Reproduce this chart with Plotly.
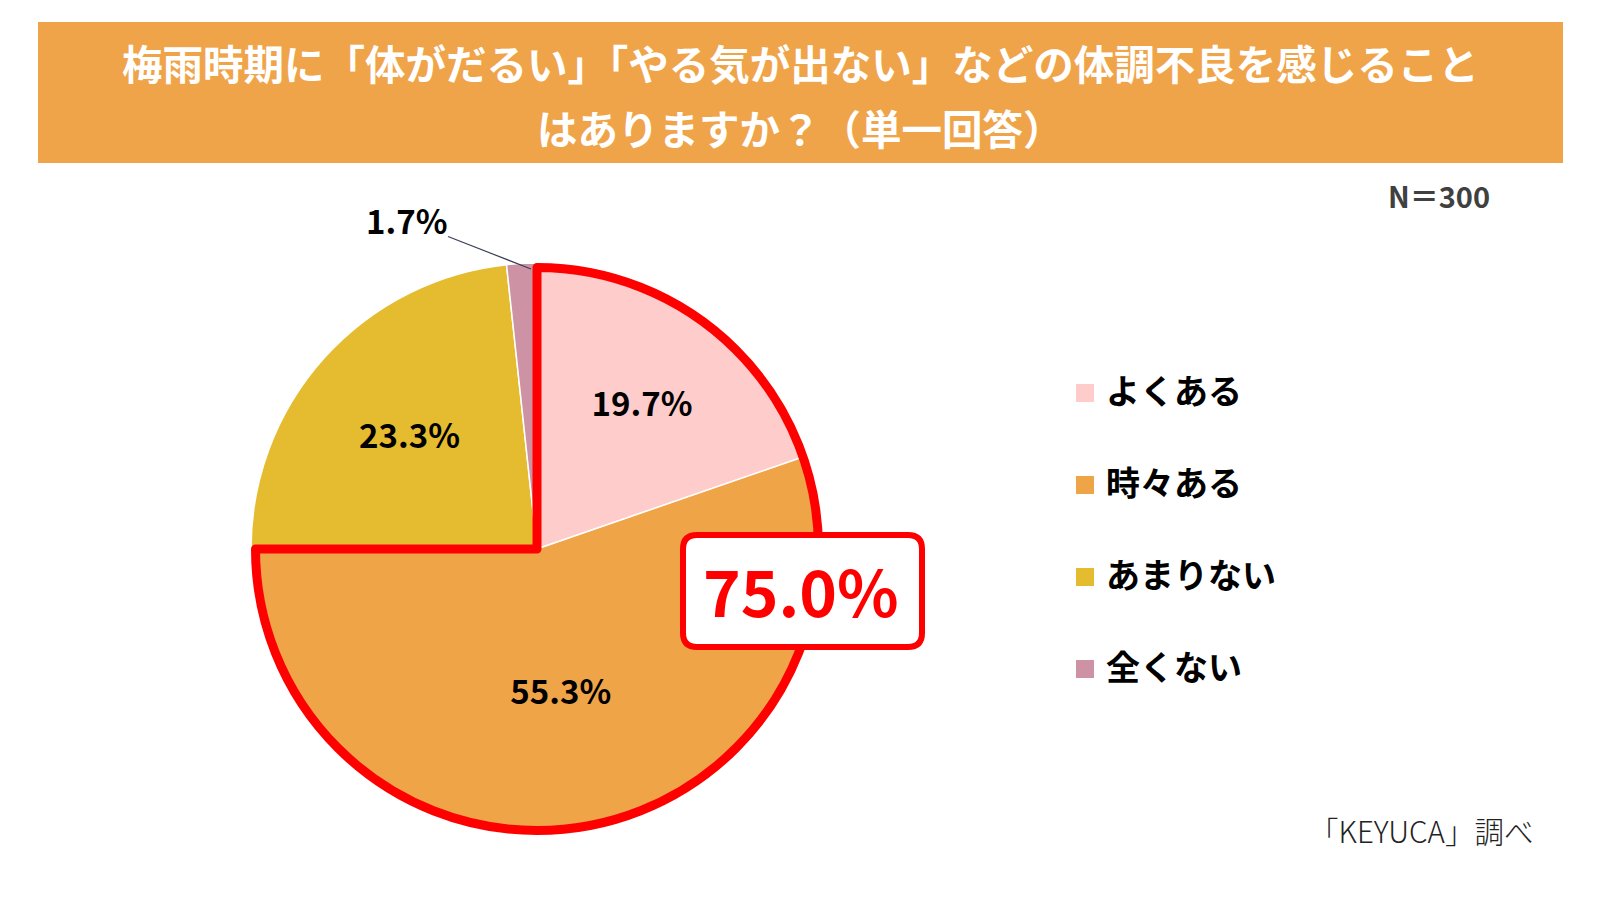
"""Pie chart: rainy-season condition survey (KEYUCA), N=300."""

import plotly.graph_objects as go

W, H = 1600, 900
OFF = 8  # page body margin in the exported html

# data
labels = ["よくある", "時々ある", "あまりない", "全くない"]
values = [19.7, 55.3, 23.3, 1.7]
colors = ["#FFCCCC", "#F0A448", "#E5BC2F", "#CD93A5"]
title_lines = [
    "梅雨時期に「体がだるい」「やる気が出ない」などの体調不良を感じること",
    "はありますか？（単一回答）",
]
n_note = "N＝300"
source_note = "「KEYUCA」調べ"

JP = "Noto Sans CJK JP"


def px(x):
    return (x - OFF) / W


def py(y):
    return 1 - (y - OFF) / H


def rounded_box(x0, y0, x1, y1, r):
    # path in paper coords from pixel box (y measured from top)
    rx, ry = r / W, r / H
    a, b, c, d = px(x0), py(y0), px(x1), py(y1)
    return (
        f"M {a + rx},{b} L {c - rx},{b} Q {c},{b} {c},{b - ry} "
        f"L {c},{d + ry} Q {c},{d} {c - rx},{d} "
        f"L {a + rx},{d} Q {a},{d} {a},{d + ry} "
        f"L {a},{b - ry} Q {a},{b} {a + rx},{b} Z"
    )


def note(text, x, y, size, color, weight, xanchor="center"):
    return dict(text=text, x=px(x), y=py(y), xref="paper", yref="paper",
                xanchor=xanchor, yanchor="middle", showarrow=False,
                font=dict(family=JP, size=size, color=color, weight=weight))


# pie geometry (pixels)
cx, cy, R = 537, 549, 286
inset = 4.5

fig = go.Figure()

slice_text = [f"{v}%" for v in values[:3]] + [""]
fig.add_trace(go.Pie(
    labels=labels,
    values=values,
    sort=False,
    direction="clockwise",
    rotation=0,
    marker=dict(colors=colors, line=dict(color="white", width=1.5)),
    text=slice_text,
    textinfo="text",
    textposition="inside",
    insidetextorientation="horizontal",
    textfont=dict(family=JP, size=33, color="black", weight="bold"),
    domain=dict(x=[px(cx - R), px(cx + R)], y=[py(cy + R), py(cy - R)]),
    hoverinfo="skip",
    showlegend=False,
))

# red outline around the "often" + "sometimes" share
share = round(values[0] + values[1], 1)
fig.add_trace(go.Pie(
    labels=["outline", "rest"],
    values=[share, 100 - share],
    sort=False,
    direction="clockwise",
    rotation=0,
    marker=dict(
        colors=["rgba(0,0,0,0)", "rgba(0,0,0,0)"],
        line=dict(color=["#FF0000", "rgba(0,0,0,0)"], width=[9, 0]),
    ),
    textinfo="none",
    domain=dict(
        x=[px(cx - R + inset), px(cx + R - inset)],
        y=[py(cy + R - inset), py(cy - R + inset)],
    ),
    hoverinfo="skip",
    showlegend=False,
))

shapes = [
    # title band
    dict(type="rect", xref="paper", yref="paper",
         x0=px(38), x1=px(1563), y0=py(163), y1=py(22),
         fillcolor="#F0A44A", line=dict(width=0), layer="below"),
    # 75% callout box
    dict(type="path", xref="paper", yref="paper",
         path=rounded_box(683, 535, 922, 647, 14),
         fillcolor="white", line=dict(color="#FF0000", width=6)),
]

annotations = [
    note(title_lines[0], 800, 62, 40.5, "white", "bold"),
    note(title_lines[1], 800, 128, 40.5, "white", "bold"),
    note(n_note, 1492, 195, 29, "#404040", "bold", xanchor="right"),
    note(source_note, 1535, 830, 29.5, "#222222", 300, xanchor="right"),
    note(f"{share:.1f}%", 801, 589, 64, "#FF0000", "bold"),
    # small slice label with leader line
    dict(text=f"{values[3]}%", x=px(531), y=py(269), xref="paper", yref="paper",
         ax=406 - 531, ay=220 - 269, showarrow=True, arrowhead=0,
         arrowwidth=1.2, arrowcolor="#3A3F55",
         font=dict(family=JP, size=33, color="black", weight="bold")),
]

# legend drawn by hand so the row spacing matches
for i, (lab, col) in enumerate(zip(labels, colors)):
    yc = 393 + i * 92
    shapes.append(dict(type="rect", xref="paper", yref="paper",
                       x0=px(1076), x1=px(1094), y0=py(yc + 9), y1=py(yc - 9),
                       fillcolor=col, line=dict(width=0)))
    annotations.append(note(lab, 1104, yc - 4, 34, "black", "bold", xanchor="left"))

fig.update_layout(
    width=W,
    height=H,
    margin=dict(l=0, r=0, t=0, b=0),
    paper_bgcolor="white",
    plot_bgcolor="white",
    showlegend=False,
    shapes=shapes,
    annotations=annotations,
)

fig.write_html("out.html")
